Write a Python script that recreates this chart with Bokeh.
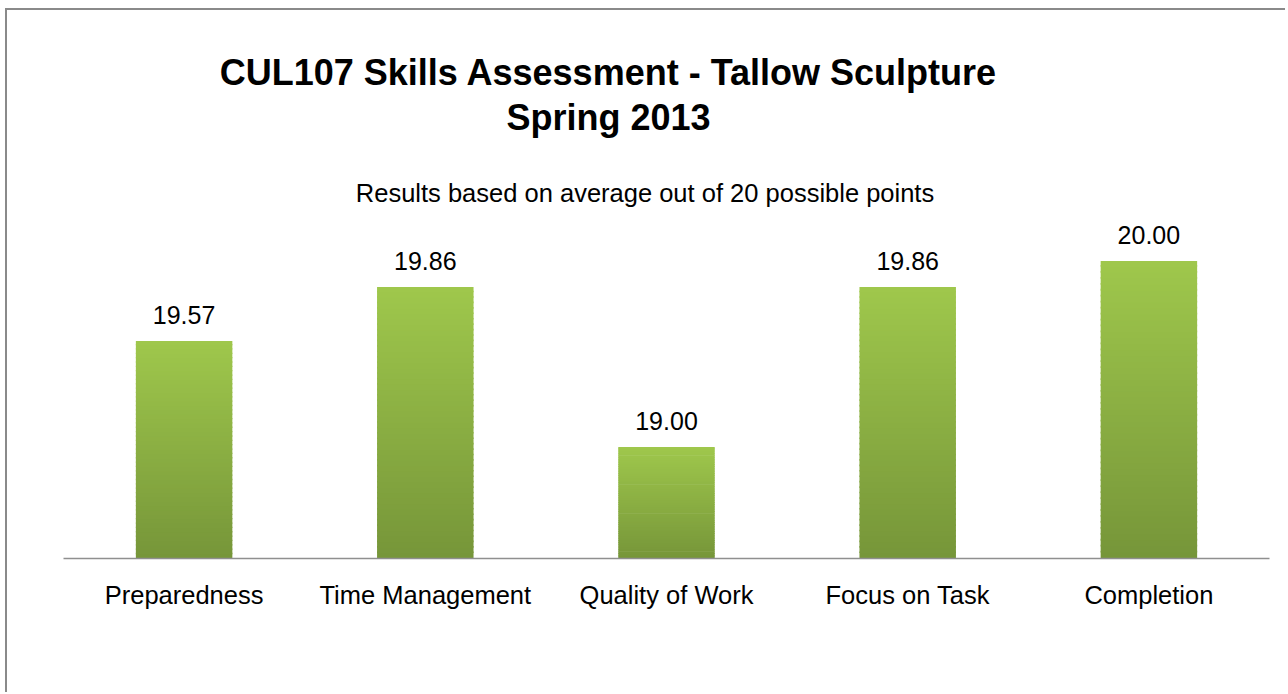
from bokeh.plotting import figure
from bokeh.models import Range1d, FactorRange, Label, LabelSet, ColumnDataSource
from bokeh.embed import file_html
from bokeh.resources import INLINE
from bokeh.core.properties import value

categories = ["Preparedness", "Time Management", "Quality of Work", "Focus on Task", "Completion"]
scores = [19.57, 19.86, 19.00, 19.86, 20.00]
score_labels = ["19.57", "19.86", "19.00", "19.86", "20.00"]
title_lines = ["CUL107 Skills Assessment - Tallow Sculpture", "Spring 2013"]
subtitle = "Results based on average out of 20 possible points"

FONT = "Liberation Sans"
BASE = 18.4
PX_PER_UNIT = 186.0
FRAME_BOTTOM = 558.0  # page px
FRAME_TOP = 30.0

p = figure(
    width=1280, height=684,
    x_range=FactorRange(*categories, range_padding=0),
    y_range=Range1d(BASE, BASE + (FRAME_BOTTOM - FRAME_TOP) / PX_PER_UNIT),
    output_backend="svg", toolbar_location=None,
    min_border_left=56, min_border_right=18, min_border_top=20, min_border_bottom=136,
)
p.styles = {"margin-top": "8px", "margin-left": "5px",
            "border-top": "2px solid #8a8a8a", "border-left": "2px solid #8a8a8a"}

# gradient bars made of thin strips
N = 50
top_rgb = (0x9F, 0xC7, 0x4C)
bot_rgb = (0x76, 0x96, 0x39)
xs, bottoms, tops, colors = [], [], [], []
for cat, v in zip(categories, scores):
    for j in range(N):
        b = BASE + (v - BASE) * j / N
        t = BASE + (v - BASE) * (j + 1) / N
        f = (j + 0.5) / N
        c = tuple(int(round(bot_rgb[k] + (top_rgb[k] - bot_rgb[k]) * f)) for k in range(3))
        xs.append(cat)
        bottoms.append(b)
        tops.append(t + (v - BASE) * 0.3 / N if j < N - 1 else t)
        colors.append("#%02x%02x%02x" % c)
p.vbar(x=xs, bottom=bottoms, top=tops, width=0.4, fill_color=colors, line_color=None)

# value labels
src = ColumnDataSource(dict(x=categories, y=scores, t=score_labels))
p.add_layout(LabelSet(x="x", y="y", text="t", source=src, y_offset=17,
                      text_align="center", text_baseline="alphabetic",
                      text_font=value(FONT), text_font_size="25px", text_color="#000000"))

def ydata(py):
    return BASE + (FRAME_BOTTOM - py) / PX_PER_UNIT

def xdata(px):
    return (px - 63.0) / 241.4

p.add_layout(Label(x=xdata(608.5), y=ydata(72), text=title_lines[0], text_align="center",
                   text_baseline="alphabetic", text_font=FONT, text_font_size="36px",
                   text_font_style="bold", text_color="#000000"))
p.add_layout(Label(x=xdata(608.5), y=ydata(117), text=title_lines[1], text_align="center",
                   text_baseline="alphabetic", text_font=FONT, text_font_size="36px",
                   text_font_style="bold", text_color="#000000"))
p.add_layout(Label(x=xdata(645), y=ydata(192), text=subtitle, text_align="center",
                   text_baseline="alphabetic", text_font=FONT, text_font_size="25.5px",
                   text_color="#000000"))

p.yaxis.visible = False
p.xgrid.grid_line_color = None
p.ygrid.grid_line_color = None
p.outline_line_color = None
p.xaxis.axis_line_color = "#8f8f8f"
p.xaxis.axis_line_width = 1.5
p.xaxis.major_tick_line_color = None
p.xaxis.minor_tick_line_color = None
p.xaxis.major_label_text_font = FONT
p.xaxis.major_label_text_font_size = "25.5px"
p.xaxis.major_label_text_color = "#000000"
p.xaxis.major_label_standoff = 16

open("out.html", "w").write(file_html(p, INLINE))
